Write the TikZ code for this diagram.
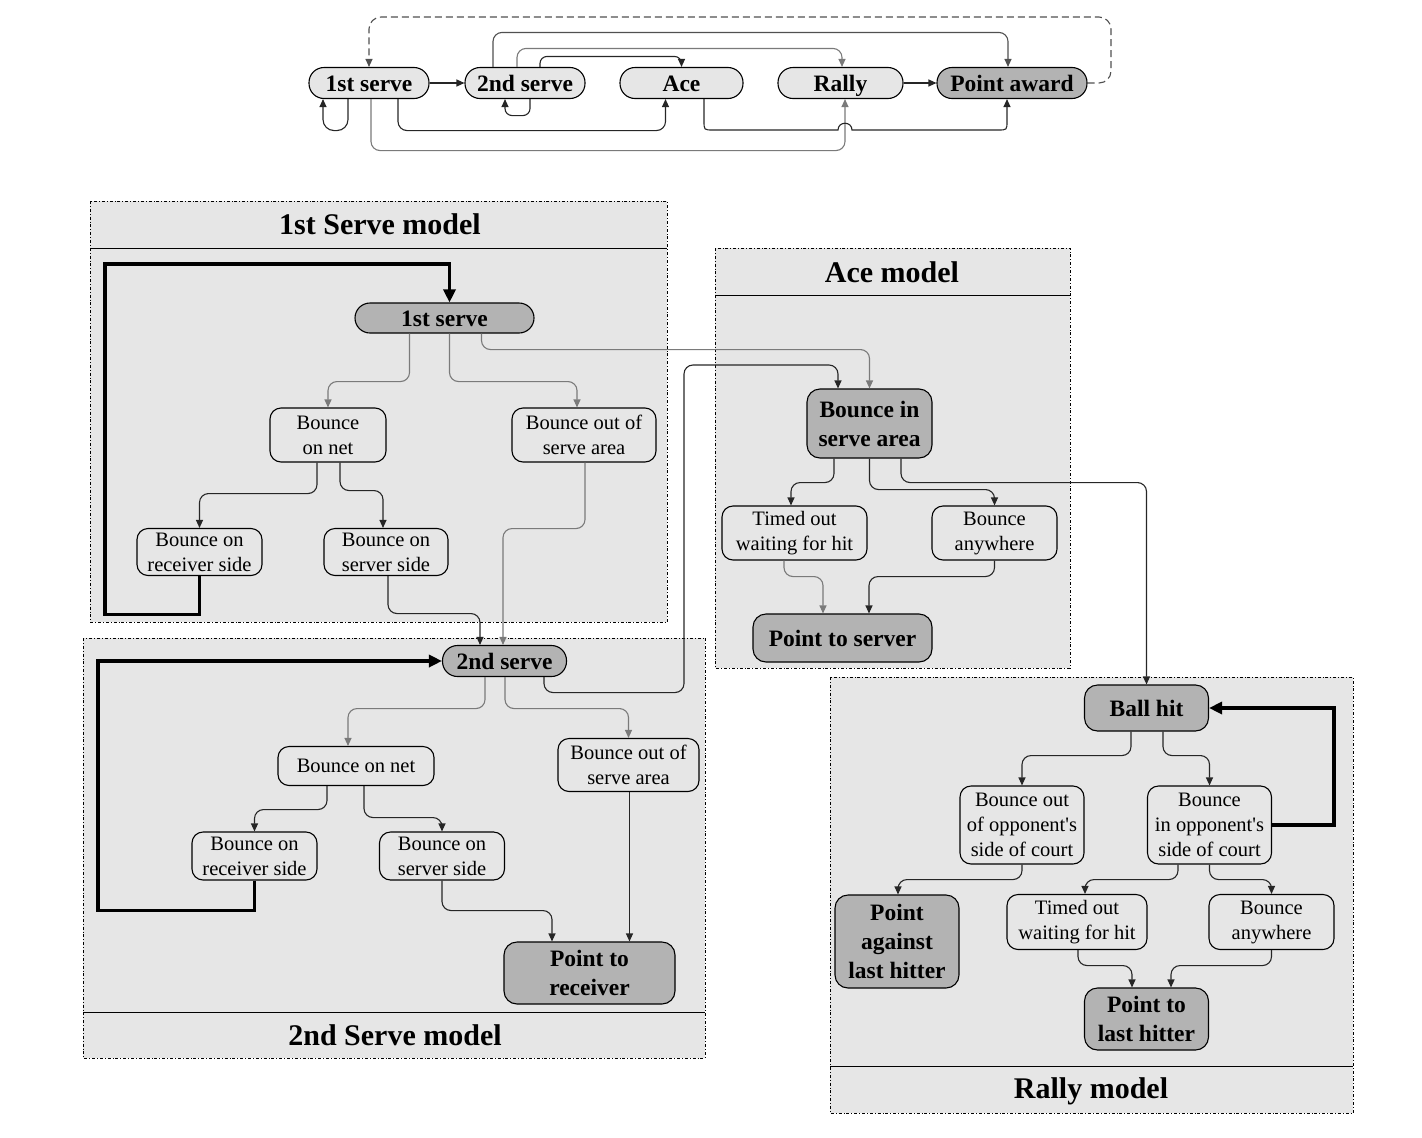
\documentclass[tikz,border=0pt]{standalone}
\usepackage{fontspec}
\setmainfont{Liberation Serif}
\newfontfamily\aposfont{Liberation Serif}
\newcommand{\ap}{{\aposfont\symbol{39}}}
\usetikzlibrary{arrows.meta}
\definecolor{panelbg}{HTML}{E6E6E6}
\definecolor{darkfill}{HTML}{B3B3B3}
\definecolor{dline}{HTML}{262626}
\definecolor{lline}{HTML}{7A7A7A}
\definecolor{mline}{HTML}{505050}
\begin{document}
\begin{tikzpicture}[x=1pt,y=-1pt,
  nb/.style={draw=black,line width=1.1pt,inner sep=0pt,align=center,text=black},
  lnode/.style={nb,fill=panelbg,rounded corners=11pt,font=\fontsize{20.5}{25}\selectfont},
  dnode/.style={nb,fill=darkfill,rounded corners=13pt,font=\fontsize{23.5}{29}\selectfont\bfseries},
  pilll/.style={nb,fill=panelbg,rounded corners=15pt,minimum height=31pt,text height=16pt,text depth=0pt,font=\fontsize{23.5}{29}\selectfont\bfseries},
  pilld/.style={pilll,fill=darkfill},
  panel/.style={draw=black,line width=0.8pt,dash dot,fill=panelbg},
  ptitle/.style={font=\fontsize{30}{34}\selectfont\bfseries,text=black},
  con/.style={draw=dline,line width=1.1pt,rounded corners=9pt,-{Triangle[length=8pt,width=7pt]}},
  cong/.style={con,draw=lline},
  conm/.style={con,draw=mline},
  thk/.style={draw=black,line width=3.5pt,-{Triangle[length=13pt,width=12pt]}}
]
\useasboundingbox (0,0) rectangle (1422,1138);

% ---------------- top strip ----------------
\node[pilll,minimum width=120pt] (T1) at (369,83) {1st serve};
\node[pilll,minimum width=120pt] (T2) at (525,83) {2nd serve};
\node[pilll,minimum width=123pt] (TA) at (681.5,83) {Ace};
\node[pilll,minimum width=125pt] (TR) at (840.5,83) {Rally};
\node[pilld,minimum width=150pt] (TP) at (1012,83) {Point award};

\draw[con] (T1.east) -- (T2.west);
\draw[con] (TR.east) -- (TP.west);
\draw[conm,dash pattern=on 7pt off 4pt,rounded corners=12pt] (TP.east) -| (1111,17) -| (T1.north);
\draw[con,rounded corners=11pt] ([xshift=-21pt]T1.south) -- ++(0,31.5) -| ([xshift=-46pt]T1.south);
\draw[con,rounded corners=7pt] ([xshift=5pt]T2.south) -- ++(0,16.5) -| ([xshift=-20pt]T2.south);
\draw[con] ([xshift=29pt]T1.south) -- ++(0,31.5) -| ([xshift=-16pt]TA.south);
\draw[cong] ([xshift=2pt]T1.south) -- ++(0,51.5) -| ([xshift=4.5pt]TR.south);
\draw[con,sharp corners] ([xshift=22.5pt]TA.south) -- (704,121) .. controls (704,130) .. (713,130) -- (838,130) .. controls (838,121) and (852,121) .. (852,130) -- (998,130) .. controls (1007,130) .. (1007,121) -- ([xshift=-5pt]TP.south);
\draw[con,rounded corners=7pt] ([xshift=15pt]T2.north) -- ++(0,-10.5) -| (TA.north);
\draw[cong] ([xshift=-8pt]T2.north) -- ++(0,-18.5) -| ([xshift=1.5pt]TR.north);
\draw[conm] ([xshift=-32pt]T2.north) -- ++(0,-34.5) -| ([xshift=-4pt]TP.north);

% ---------------- panels ----------------
\draw[panel] (90,201) rectangle (667,622);
\draw[line width=0.8pt] (90,248) -- (667,248);
\node[ptitle] (P1t) at (380,224) {1st Serve model};

\draw[panel] (83,638) rectangle (705,1058);
\draw[line width=0.8pt] (83,1012) -- (705,1012);
\node[ptitle] (P2t) at (395,1035) {2nd Serve model};

\draw[panel] (715,248) rectangle (1070,668);
\draw[line width=0.8pt] (715,295) -- (1070,295);
\node[ptitle] (PAt) at (892,272) {Ace model};

\draw[panel] (830,677) rectangle (1353,1113);
\draw[line width=0.8pt] (830,1066) -- (1353,1066);
\node[ptitle] (PRt) at (1091,1091) {Rally model};

% ---------------- 1st serve model ----------------
\node[pilld,minimum width=179pt,minimum height=30pt] (S1) at (444.5,318) {1st serve};
\node[lnode,minimum width=116pt,minimum height=54pt] (BN1) at (328,435) {Bounce\\on net};
\node[lnode,minimum width=144pt,minimum height=54pt] (BO1) at (584,435) {Bounce out of\\serve area};
\node[lnode,minimum width=125pt,minimum height=47pt] (BR1) at (199.5,552) {Bounce on\\receiver side};
\node[lnode,minimum width=124pt,minimum height=47pt] (BS1) at (386,552) {Bounce on\\server side};

% ---------------- 2nd serve model ----------------
\node[pilld,minimum width=124pt] (S2) at (504.5,661) {2nd serve};
\node[lnode,minimum width=156pt,minimum height=39pt] (BN2) at (356,766) {Bounce on net};
\node[lnode,minimum width=141pt,minimum height=53pt] (BO2) at (628.5,765) {Bounce out of\\serve area};
\node[lnode,minimum width=125pt,minimum height=48pt] (BR2) at (254.5,856) {Bounce on\\receiver side};
\node[lnode,minimum width=125pt,minimum height=48pt] (BS2) at (442,856) {Bounce on\\server side};
\node[dnode,minimum width=171pt,minimum height=62pt] (PR2) at (589.5,973) {Point to\\receiver};

% ---------------- ace model ----------------
\node[dnode,minimum width=125pt,minimum height=69pt] (BIS) at (869.5,423.5) {Bounce in\\serve area};
\node[lnode,minimum width=145pt,minimum height=54pt] (TO1) at (794.5,533) {Timed out\\waiting for hit};
\node[lnode,minimum width=125pt,minimum height=54pt] (BA1) at (994.5,533) {Bounce\\anywhere};
\node[dnode,minimum width=179pt,minimum height=48pt] (PS) at (842.5,638) {Point to server};

% ---------------- rally model ----------------
\node[dnode,minimum width=124pt,minimum height=46pt] (BH) at (1146.5,708) {Ball hit};
\node[lnode,minimum width=124pt,minimum height=78pt] (BOO) at (1022,825) {Bounce out\\of opponent\ap s\\side of court};
\node[lnode,minimum width=124pt,minimum height=78pt] (BIO) at (1209.5,825) {Bounce\\in opponent\ap s\\side of court};
\node[dnode,minimum width=124pt,minimum height=93pt] (PA2) at (897,941.5) {Point\\against\\last hitter};
\node[lnode,minimum width=140pt,minimum height=55pt] (TO2) at (1077,922) {Timed out\\waiting for hit};
\node[lnode,minimum width=125pt,minimum height=55pt] (BA2) at (1271.5,922) {Bounce\\anywhere};
\node[dnode,minimum width=124pt,minimum height=62pt] (PL) at (1146.5,1019) {Point to\\last hitter};

% ---------------- connectors: 1st serve model ----------------
\draw[thk] (BR1.south) -- ++(0,38.5) -| (105,264) -| ([xshift=5pt]S1.north);
\draw[cong] ([xshift=-35pt]S1.south) -- ++(0,48) -| (BN1.north);
\draw[cong] ([xshift=5pt]S1.south) -- ++(0,48) -| ([xshift=-7pt]BO1.north);
\draw[cong] ([xshift=37pt]S1.south) -- ++(0,16) -| (BIS.north);
\draw[con] ([xshift=-11pt]BN1.south) -- ++(0,31) -| (BR1.north);
\draw[con] ([xshift=12pt]BN1.south) -- ++(0,28) -| ([xshift=-3pt]BS1.north);
\draw[con] ([xshift=2pt]BS1.south) -- ++(0,37.5) -| ([xshift=-24.5pt]S2.north);
\draw[cong] ([xshift=1pt]BO1.south) -- ++(0,66) -| ([xshift=-1.5pt]S2.north);

% ---------------- connectors: 2nd serve model ----------------
\draw[thk] (BR2.south) -- ++(0,30) -| (98,661) -- (S2.west);
\draw[cong] ([xshift=-19.5pt]S2.south) -- ++(0,31.5) -| ([xshift=-8pt]BN2.north);
\draw[cong] ([xshift=0.5pt]S2.south) -- ++(0,31.5) -| (BO2.north);
\draw[con] ([xshift=39.5pt]S2.south) -- ++(0,15.5) -| (684,365) -| ([xshift=-31.5pt]BIS.north);
\draw[con] ([xshift=-29pt]BN2.south) -- ++(0,23.5) -| (BR2.north);
\draw[con] ([xshift=8pt]BN2.south) -- ++(0,31.5) -| (BS2.north);
\draw[con] (BS2.south) -- ++(0,30) -| ([xshift=-37.5pt]PR2.north);
\draw[con] ([xshift=1pt]BO2.south) -- ([xshift=1pt]BO2.south |- PR2.north);

% ---------------- connectors: ace model ----------------
\draw[con] ([xshift=-35.5pt]BIS.south) -- ++(0,24) -| ([xshift=-3.5pt]TO1.north);
\draw[con] (BIS.south) -- ++(0,31) -| (BA1.north);
\draw[con] ([xshift=31.5pt]BIS.south) -- ++(0,24) -| (BH.north);
\draw[cong] ([xshift=-10.5pt]TO1.south) -- ++(0,16) -| ([xshift=-19.5pt]PS.north);
\draw[con] (BA1.south) -- ++(0,16) -| ([xshift=26.5pt]PS.north);

% ---------------- connectors: rally model ----------------
\draw[thk] (BIO.east) -| (1334,708) -- (BH.east);
\draw[con] ([xshift=-15.5pt]BH.south) -- ++(0,24) -| (BOO.north);
\draw[con] ([xshift=16.5pt]BH.south) -- ++(0,24) -| (BIO.north);
\draw[con] (BOO.south) -- ++(0,15) -| ([xshift=1pt]PA2.north);
\draw[con] ([xshift=-31.5pt]BIO.south) -- ++(0,15) -| ([xshift=8pt]TO2.north);
\draw[con] (BIO.south) -- ++(0,15) -| (BA2.north);
\draw[con] ([xshift=1pt]TO2.south) -- ++(0,15.5) -| ([xshift=-14.5pt]PL.north);
\draw[con] (BA2.south) -- ++(0,15.5) -| ([xshift=24.5pt]PL.north);
\end{tikzpicture}
\end{document}
